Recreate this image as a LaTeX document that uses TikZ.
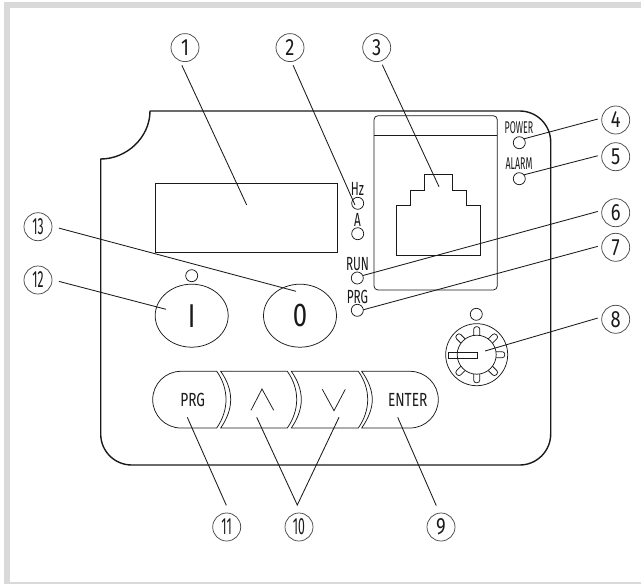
\documentclass[tikz,border=0pt]{standalone}
\usepackage{fontspec}
\usetikzlibrary{shapes.geometric}
\newfontfamily\ffa[FakeStretch=0.78]{Fira Sans}
\newfontfamily\ffb[FakeStretch=0.52]{Fira Sans}
\newfontfamily\ffc[FakeStretch=0.62]{Fira Sans}
\newfontfamily\ffd[FakeStretch=0.72]{Fira Sans}
\definecolor{frameg}{HTML}{D9D9D9}
\definecolor{ink}{HTML}{1A1A1A}
\tikzset{
  x=1pt,y=-1pt,
  every path/.style={color=ink},
  panel/.style={draw=ink,line width=1.4pt,line join=round},
  thinl/.style={draw=ink,line width=0.75pt},
  leader/.style={draw=ink,line width=0.85pt},
  led/.style={circle,draw=ink,line width=0.75pt,minimum size=12pt,inner sep=0pt,outer sep=0pt},
  num/.style={circle,draw=black!70,line width=0.75pt,minimum size=28pt,inner sep=0pt,outer sep=4pt,font=\ffa\fontsize{23.5}{23.5}\selectfont,text=ink},
  numd/.style={num,font=\ffb\fontsize{23.5}{23.5}\selectfont},
  lbl/.style={inner sep=0pt,text=ink,font=\ffc\fontsize{19}{19}\selectfont},
  lbls/.style={inner sep=0pt,text=ink,font=\ffb\fontsize{17}{17}\selectfont},
  keytxt/.style={inner sep=0pt,text=ink,font=\ffd\fontsize{19}{19}\selectfont},
  roundkey/.style={ellipse,draw=ink,line width=0.75pt,minimum width=73pt,minimum height=63pt,inner sep=0pt,outer sep=0pt,text=ink,font=\ffa\fontsize{33}{33}\selectfont},
}
\begin{document}
\begin{tikzpicture}
\useasboundingbox (0,0) rectangle (641,584);
% frame
\fill[frameg] (4,2) rectangle (641,7.5);
\fill[frameg] (4,2) rectangle (10,584);
\fill[frameg] (4,582) rectangle (641,584);
% panel
\draw[panel] (150,111) [rounded corners=31pt] -- (550.7,111) -- (550.7,465) -- (100.7,465) [sharp corners] -- (100.7,159)
  .. controls (127,159) and (150,137) .. (150,111) -- cycle;
% display
\node[draw=ink,line width=0.75pt,minimum width=182pt,minimum height=69.4pt,inner sep=0pt,outer sep=0pt] (disp) at (246.7,218) {};
% connector window
\draw[thinl,rounded corners=4pt] (374,115.7) rectangle (497.3,290);
\draw[thinl] (374,135) -- (497.3,135);
\draw[thinl] (396,255.3) -- (396,205.7) -- (410,205.7) -- (410,190) -- (424.7,190) -- (424.7,174.3)
  -- (452.3,174.3) -- (452.3,190) -- (466.7,190) -- (466.7,205.7) -- (480.3,205.7) -- (480.3,255.3) -- cycle;
% leds
\node[led] (ledI) at (191.7,275.7) {};
\node[led] (ledHz) at (357.7,203.3) {};
\node[led] (ledA) at (357.7,233.7) {};
\node[led] (ledRun) at (357.3,278) {};
\node[led] (ledPrg) at (357.3,310.3) {};
\node[led] (ledPow) at (519.3,142.7) {};
\node[led] (ledAl) at (519.3,178.7) {};
\node[led] (ledKnob) at (476.3,314.3) {};
% labels
\node[lbl] (tHz) at (357.5,189) {Hz};
\node[lbl] (tA) at (357.5,220) {A};
\node[lbl] (tRun) at (357.5,264) {RUN};
\node[lbl] (tPrg) at (357.5,297) {PRG};
\node[lbls] (tPow) at (519,128) {POWER};
\node[lbls] (tAl) at (519,164) {ALARM};
% round keys
\node[roundkey] (keyI) at (191.7,315.7) {I};
\node[roundkey] (keyO) at (300,315.7) {0};
% knob
\draw[thinl] (476.7,354.7) circle[radius=31pt];
\draw[thinl] (476.7,354.7) circle[radius=19.5pt];
\foreach \a in {0,45,90,135,225,270,315}{
  \draw[thinl,rotate around={\a:(476.7,354.7)},rounded corners=2.5pt]
    (496.2,351.7) -- (504.7,351.7) -- (504.7,357.7) -- (496.2,357.7);
}
\draw[thinl] (448.3,352.7) rectangle (477.3,358);
% long keys
\draw[thinl] (216.7,371.3) -- (180.9,371.3) .. controls (165.3,371.3) and (152.7,384) .. (152.7,399.65)
  .. controls (152.7,415.3) and (165.3,428) .. (180.9,428) -- (216.7,428)
  .. controls (223,419) and (226,409) .. (226,399.65) .. controls (226,390) and (223,380) .. (216.7,371.3) -- cycle;
\draw[thinl] (220.7,371.3) -- (287.3,371.3) .. controls (293.6,380) and (296.7,390) .. (296.7,399.65)
  .. controls (296.7,409) and (293.6,419) .. (287.3,428) -- (220.7,428)
  .. controls (227,419) and (230.7,409) .. (230.7,399.65) .. controls (230.7,390) and (227,380) .. (220.7,371.3) -- cycle;
\draw[thinl] (291.3,371.3) -- (358.3,371.3) .. controls (364.6,380) and (367.7,390) .. (367.7,399.65)
  .. controls (367.7,409) and (364.6,419) .. (358.3,428) -- (291.3,428)
  .. controls (297.6,419) and (301.3,409) .. (301.3,399.65) .. controls (301.3,390) and (297.6,380) .. (291.3,371.3) -- cycle;
\draw[thinl] (361.7,371.3) -- (410,371.3) .. controls (425.6,371.3) and (438.3,384) .. (438.3,399.65)
  .. controls (438.3,415.3) and (425.6,428) .. (410,428) -- (361.7,428)
  .. controls (368,419) and (372.3,409) .. (372.3,399.65) .. controls (372.3,390) and (368,380) .. (361.7,371.3) -- cycle;
\draw[thinl] (251,410.3) -- (262,389) -- (273.7,410.3);
\draw[thinl] (322.3,389.3) -- (334,410.7) -- (345.3,389.3);
\node[keytxt] (kPrg) at (192.7,400) {PRG};
\node[keytxt] (kEnt) at (407.7,400) {ENTER};
% numbers
\node[num] (n1) at (185,47.6) {1};
\node[num] (n2) at (290,47.6) {2};
\node[num] (n3) at (376.7,47.6) {3};
\node[num] (n4) at (615.7,120) {4};
\node[num] (n5) at (615.7,156.7) {5};
\node[num] (n6) at (615.7,212.7) {6};
\node[num] (n7) at (615.7,247.3) {7};
\node[num] (n8) at (615.7,319.3) {8};
\node[num] (n9) at (441,527) {9};
\node[numd] (n10) at (299,527) {10};
\node[numd] (n11) at (226.7,527) {11};
\node[numd] (n12) at (38,280) {12};
\node[numd] (n13) at (38,226.7) {13};
% connector ends
\coordinate (t1) at (246.7,205);
\coordinate (t2) at (355,205);
\coordinate (t3) at (439,186.7);
\coordinate (t8) at (485,351);
\coordinate (t9) at (397.7,417.3);
\coordinate (t10a) at (256.7,417.3);
\coordinate (t10b) at (339,417.3);
\coordinate (j10) at (297.3,505);
\coordinate (t11) at (187.3,417.3);
\coordinate (t12) at (166,309.3);
\coordinate (t13) at (296,291.3);
% connectors
\draw[leader] (n1.260) -- (t1);
\draw[leader] (n2.280) -- (t2);
\draw[leader] (n3.288) -- (t3);
\draw[leader] (n4.177) -- (ledPow.40);
\draw[leader] (n5.177) -- (ledAl.40);
\draw[leader] (n6.176) -- (ledRun.24);
\draw[leader] (n7.177) -- (ledPrg.5);
\draw[leader] (n8.176) -- (t8);
\draw[leader,shorten <=4pt] (n9.100) -- (t9);
\draw[leader] (t10a) -- (j10) -- (t10b);
\draw[leader,shorten <=4pt] (n11.86) -- (t11);
\draw[leader,shorten <=3pt] (n12.358) -- (t12);
\draw[leader,shorten <=3pt] (n13.358) -- (t13);
\end{tikzpicture}
\end{document}
